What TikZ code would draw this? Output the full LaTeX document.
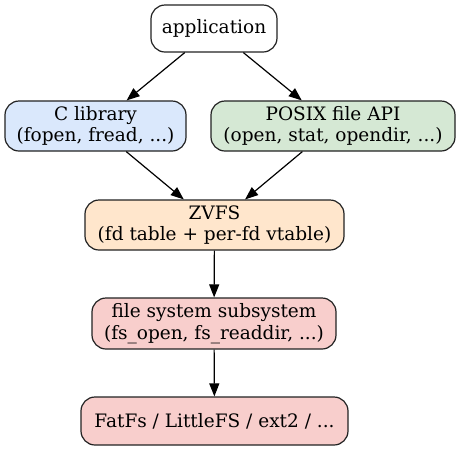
\documentclass[tikz,border=0pt]{standalone}
\usepackage{fontspec}
\setmainfont{DejaVu Serif}
\usetikzlibrary{arrows.meta}
\definecolor{cblue}{HTML}{DAE8FC}
\definecolor{cgreen}{HTML}{D5E8D4}
\definecolor{corange}{HTML}{FFE6CC}
\definecolor{cred}{HTML}{F8CECC}
\definecolor{cborder}{HTML}{222222}
\begin{document}
\begin{tikzpicture}[x=1pt,y=-1pt,
  box/.style={draw=cborder, line width=1.2pt, rounded corners=14pt, align=center,
    inner sep=0pt, font=\fontsize{18.5}{21.5}\selectfont},
  conn/.style={-{Triangle[length=13pt,width=10pt]}, line width=1.2pt}]
\useasboundingbox (0,0) rectangle (461,451);
\node[box, fill=white, minimum width=126pt, minimum height=47pt] (app) at (214,28.5) {application};
\node[box, fill=cblue, minimum width=181pt, minimum height=50pt] (clib) at (95.5,126) {C library\\(fopen, fread, ...)};
\node[box, fill=cgreen, minimum width=244pt, minimum height=50pt] (posix) at (333,126) {POSIX file API\\(open, stat, opendir, ...)};
\node[box, fill=corange, minimum width=259pt, minimum height=50pt] (zvfs) at (214.5,225) {ZVFS\\(fd table + per-fd vtable)};
\node[box, fill=cred, minimum width=244pt, minimum height=51pt] (fss) at (214,323.5) {file system subsystem\\(fs\_open, fs\_readdir, ...)};
\node[box, fill=cred, minimum width=267pt, minimum height=48pt] (fat) at (214.5,421) {FatFs / LittleFS / ext2 / ...};
\draw[conn] (app) -- (clib);
\draw[conn] (app) -- (posix);
\draw[conn] (clib) -- (zvfs);
\draw[conn] (posix) -- (zvfs);
\draw[conn] (zvfs) -- (fss);
\draw[conn] (fss) -- (fat);
\end{tikzpicture}
\end{document}
